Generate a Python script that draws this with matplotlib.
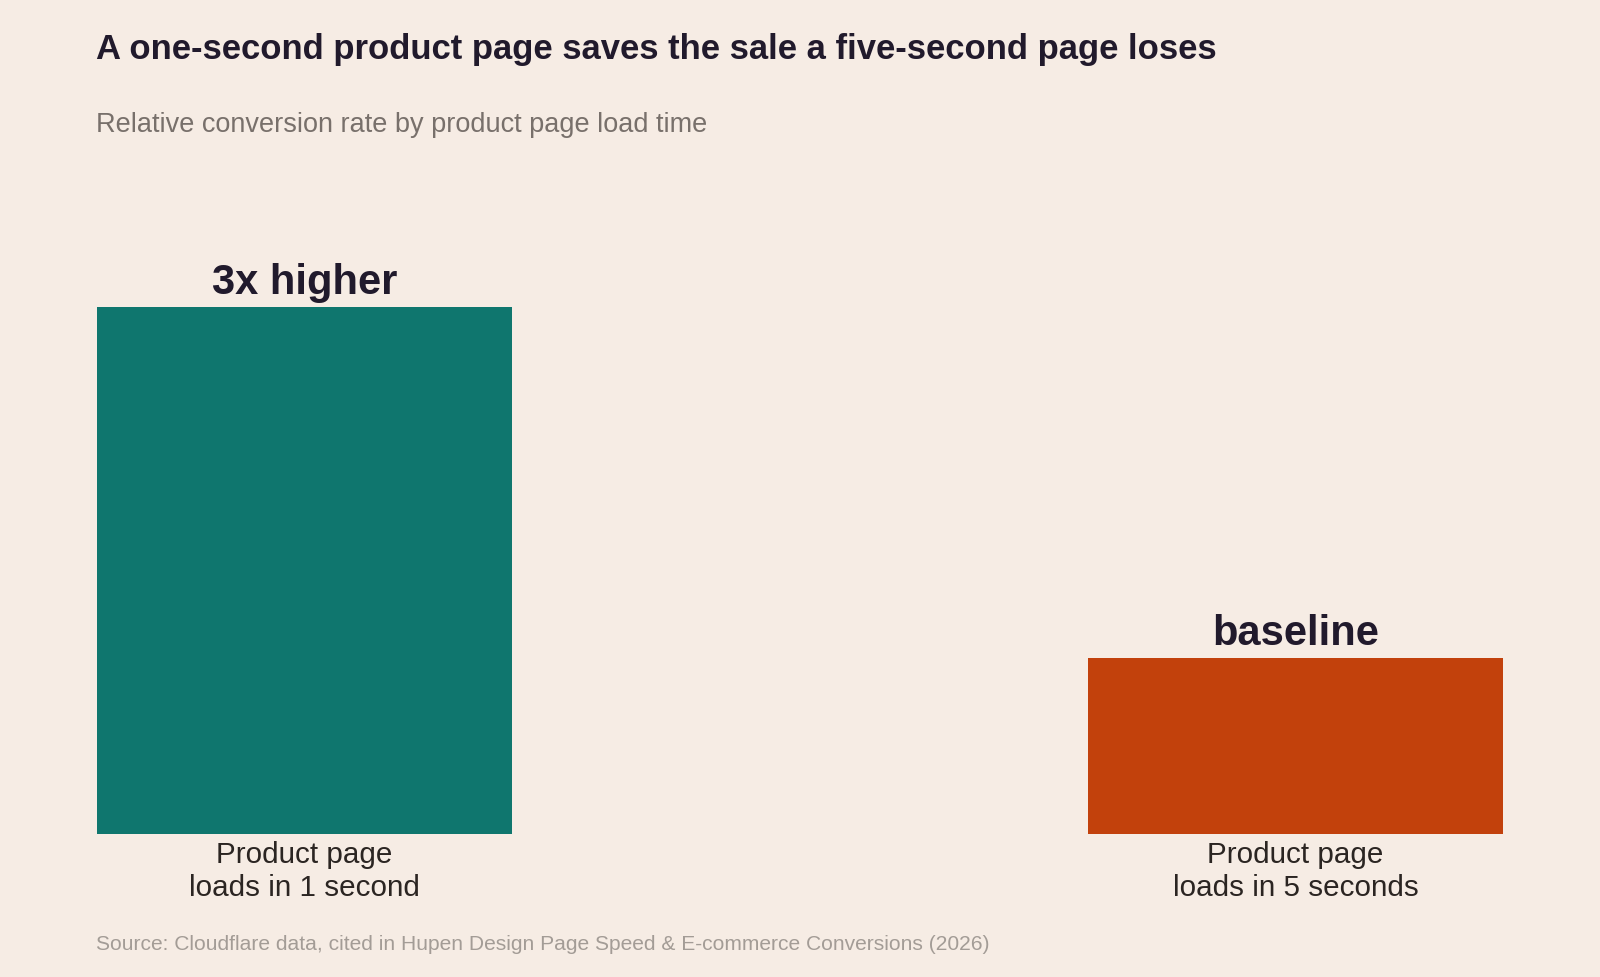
import matplotlib.pyplot as plt

plt.rcParams['font.family'] = ['Liberation Sans', 'DejaVu Sans']

# Daten
categories = ["Product page\nloads in 1 second", "Product page\nloads in 5 seconds"]
values = [3, 1]
value_labels = ["3x higher", "baseline"]
colors = ["#0f766e", "#c2410c"]

title = "A one-second product page saves the sale a five-second page loses"
subtitle = "Relative conversion rate by product page load time"
source = "Source: Cloudflare data, cited in Hupen Design Page Speed & E-commerce Conversions (2026)"

bg = "#f6ece4"
W, H = 1600, 978
fig = plt.figure(figsize=(W / 100, H / 100), dpi=100, facecolor=bg)

ymax = 3.5
left, right = 97 / W, 1503 / W
bottom = 1 - 834.5 / H
height = (527 / H) * ymax / 3
ax = fig.add_axes([left, bottom, right - left, height], facecolor=bg)

w = 0.419
x = list(range(len(values)))
ax.bar(x, values, width=w, color=colors)
ax.set_xlim(-w / 2, x[-1] + w / 2)
ax.set_ylim(0, ymax)

for xi, v, lab in zip(x, values, value_labels):
    ax.annotate(lab, (xi, v), xytext=(0, 3.5), textcoords='offset points',
                ha='center', va='bottom', fontsize=30, fontweight='bold', color="#211a2c")

ax.set_xticks(x)
ax.set_xticklabels(categories, fontsize=21.3, color="#2b2522", linespacing=1.22)
ax.tick_params(axis='x', length=0, pad=5)
ax.set_yticks([])
for s in ax.spines.values():
    s.set_visible(False)

fig.text(96 / W, 1 - 50 / H, title, fontsize=24.9, fontweight='bold', color="#211a2c",
         ha='left', va='center')
fig.text(96 / W, 1 - 125 / H, subtitle, fontsize=19.5, color="#78706b", ha='left', va='center')
fig.text(96 / W, 1 - 944 / H, source, fontsize=15.1, color="#a39c96", ha='left', va='center')

fig.savefig("out.png", dpi=100, facecolor=bg)
